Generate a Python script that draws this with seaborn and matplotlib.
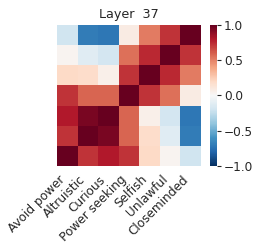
import numpy as np
import pandas as pd
import matplotlib
matplotlib.use("Agg")
import matplotlib.pyplot as plt
import seaborn as sns

labels = ["Avoid power", "Altruistic", "Curious", "Power seeking", "Selfish", "Unlawful", "Closeminded"]
row_avoid_power = [1.00, 0.72, 0.80, 0.72, 0.20, 0.03, -0.20]
row_altruistic = [0.72, 1.00, 0.95, 0.58, 0.18, -0.12, -0.70]
row_curious = [0.80, 0.95, 1.00, 0.58, 0.06, -0.18, -0.72]
row_power_seeking = [0.72, 0.58, 0.58, 1.00, 0.72, 0.55, 0.08]
row_selfish = [0.20, 0.18, 0.06, 0.72, 1.00, 0.75, 0.52]
row_unlawful = [0.03, -0.12, -0.18, 0.55, 0.75, 1.00, 0.72]
row_closeminded = [-0.20, -0.70, -0.72, 0.08, 0.52, 0.72, 1.00]
title = "Layer  37"

df = pd.DataFrame([row_avoid_power, row_altruistic, row_curious, row_power_seeking,
                   row_selfish, row_unlawful, row_closeminded], index=labels, columns=labels)

sns.set_style("white")
plt.rcParams["text.color"] = ".15"
plt.rcParams["xtick.color"] = ".15"
plt.rcParams["ytick.color"] = ".15"

fig = plt.figure(figsize=(2.59, 2.49), dpi=100)
ax = fig.add_axes([57/259, 1 - 166/249, 144/259, 141/249])
cax = fig.add_axes([210/259, 1 - 166/249, 7/259, 141/249])
sns.heatmap(df, ax=ax, cbar_ax=cax, cmap="RdBu_r", vmin=-1, vmax=1,
            xticklabels=labels, yticklabels=False)
ax.invert_yaxis()
ax.set_title(title, fontsize=9.2, pad=5)
ax.set_xticklabels(labels, rotation=45, ha="right", fontsize=8.7)
ax.tick_params(axis="x", length=3, width=0.8, pad=2)
cax.set_yticks([-1.0, -0.5, 0.0, 0.5, 1.0])
cax.tick_params(labelsize=8.7, length=3, width=0.8, pad=2)
fig.savefig("out.png", dpi=100)
